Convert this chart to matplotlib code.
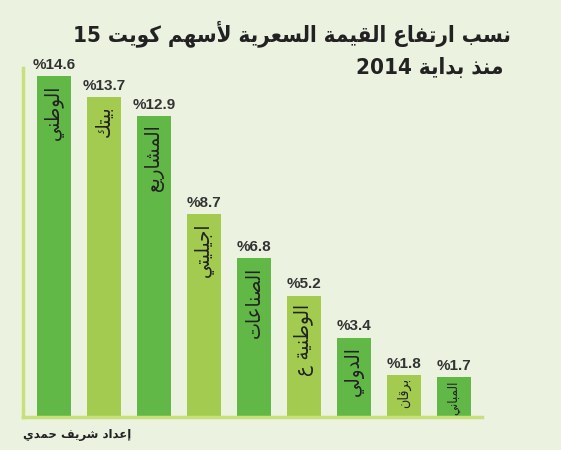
import numpy as np
import matplotlib.pyplot as plt
from matplotlib import font_manager

#################################
# DONNÉES
#################################
societes = ["الوطني", "بيتك", "المشاريع", "اجيليتي", "الصناعات",
            "الوطنية ع", "الدولي", "برقان", "المباني"]
hausse = [14.6, 13.7, 12.9, 8.7, 6.8, 5.2, 3.4, 1.8, 1.7]
titre = ["نسب ارتفاع القيمة السعرية لأسهم كويت 15", "منذ بداية 2014"]
auteur = "إعداد شريف حمدي"

vert_fonce = "#62b846"
vert_clair = "#a3cb4f"
fond = "#ebf3e0"
ligne = "#c8e07a"

#########################################################
# MISE EN FORME DE L'ARABE (matplotlib ne lie pas l'arabe)
#########################################################
# lettre -> (forme isolée, nombre de formes)
FORMES = {
    'ء': (0xFE80, 1), 'آ': (0xFE81, 2), 'أ': (0xFE83, 2), 'ؤ': (0xFE85, 2),
    'إ': (0xFE87, 2), 'ئ': (0xFE89, 4), 'ا': (0xFE8D, 2), 'ب': (0xFE8F, 4),
    'ة': (0xFE93, 2), 'ت': (0xFE95, 4), 'ث': (0xFE99, 4), 'ج': (0xFE9D, 4),
    'ح': (0xFEA1, 4), 'خ': (0xFEA5, 4), 'د': (0xFEA9, 2), 'ذ': (0xFEAB, 2),
    'ر': (0xFEAD, 2), 'ز': (0xFEAF, 2), 'س': (0xFEB1, 4), 'ش': (0xFEB5, 4),
    'ص': (0xFEB9, 4), 'ض': (0xFEBD, 4), 'ط': (0xFEC1, 4), 'ظ': (0xFEC5, 4),
    'ع': (0xFEC9, 4), 'غ': (0xFECD, 4), 'ف': (0xFED1, 4), 'ق': (0xFED5, 4),
    'ك': (0xFED9, 4), 'ل': (0xFEDD, 4), 'م': (0xFEE1, 4), 'ن': (0xFEE5, 4),
    'ه': (0xFEE9, 4), 'و': (0xFEED, 2), 'ى': (0xFEEF, 2), 'ي': (0xFEF1, 4),
}
LAM_ALEF = {'آ': 0xFEF5, 'أ': 0xFEF7, 'إ': 0xFEF9, 'ا': 0xFEFB}


def forme_mot(mot):
    unites = []
    i = 0
    while i < len(mot):
        c = mot[i]
        if c == 'ل' and i + 1 < len(mot) and mot[i + 1] in LAM_ALEF:
            unites.append((LAM_ALEF[mot[i + 1]], 2))
            i += 2
        elif c in FORMES:
            unites.append(FORMES[c])
            i += 1
        else:
            unites.append((ord(c), 0))
            i += 1
    res = []
    for k, (base, n) in enumerate(unites):
        if n == 0:
            res.append(chr(base))
            continue
        avant = n >= 2 and k > 0 and unites[k - 1][1] == 4
        apres = n == 4 and k + 1 < len(unites) and unites[k + 1][1] >= 2
        if avant and apres:
            res.append(chr(base + 3))
        elif avant:
            res.append(chr(base + 1))
        elif apres:
            res.append(chr(base + 2))
        else:
            res.append(chr(base))
    if any(ord(c) >= 0x600 for c in mot):
        res = res[::-1]
    return "".join(res)


def arabe(texte):
    return " ".join(forme_mot(m) for m in texte.split(" ")[::-1])


# police étroite pour les pourcentages si elle existe
try:
    font_manager.findfont("Liberation Sans Narrow", fallback_to_default=False)
    police_chiffres = "Liberation Sans Narrow"
    taille_chiffres = 12.5
except ValueError:
    police_chiffres = "Liberation Sans"
    taille_chiffres = 11

#################
# LE GRAPHIQUE
#################
fig = plt.figure(figsize=(5.61, 4.5), dpi=100, facecolor=fond)
ax = fig.add_axes([0.041, 0.0733, 0.818, 0.776])
ax.set_facecolor(fond)

x = np.arange(len(societes))
couleurs = [vert_fonce if i % 2 == 0 else vert_clair for i in x]
barres = ax.bar(x, hausse, width=0.68, color=couleurs, zorder=2)

ax.set_xlim(-0.62, 8.56)
ax.set_ylim(0, 14.95)
ax.set_xticks([])
ax.set_yticks([])
for cote in ["top", "right"]:
    ax.spines[cote].set_visible(False)
for cote in ["left", "bottom"]:
    ax.spines[cote].set_color(ligne)
    ax.spines[cote].set_linewidth(2.5)

noms = []
for xi, v, nom in zip(x, hausse, societes):
    ax.annotate("%" + f"{v}", (xi, v), xytext=(0, 3), textcoords="offset points",
                ha="center", va="bottom", fontsize=taille_chiffres, fontweight="bold",
                color="#333333", family=police_chiffres)
    t = ax.annotate(arabe(nom), (xi, v), xytext=(0, -6), textcoords="offset points",
                    ha="center", va="top", rotation=90, fontsize=14.5,
                    color="#222222", family="DejaVu Sans", stretch="condensed")
    noms.append(t)

# on réduit un peu les noms qui dépassent des petites barres
fig.canvas.draw()
rendu = fig.canvas.get_renderer()
for t, b in zip(noms, barres):
    h_texte = t.get_window_extent(rendu).height
    h_barre = b.get_window_extent(rendu).height - 12
    if h_texte > h_barre:
        t.set_fontsize(max(9.5, t.get_fontsize() * h_barre / h_texte))
        t.xyann = (0, -2)

# Titre et signature
fig.text(0.91, 0.925, arabe(titre[0]), ha="right", va="center", fontsize=16,
         fontweight="bold", color="#222222", stretch="condensed")
fig.text(0.897, 0.851, arabe(titre[1]), ha="right", va="center", fontsize=16,
         fontweight="bold", color="#222222", stretch="condensed")
fig.text(0.041, 0.035, arabe(auteur), ha="left", va="center", fontsize=8.5,
         fontweight="bold", color="#222222")

plt.savefig("out.png", dpi=100, facecolor=fond)
